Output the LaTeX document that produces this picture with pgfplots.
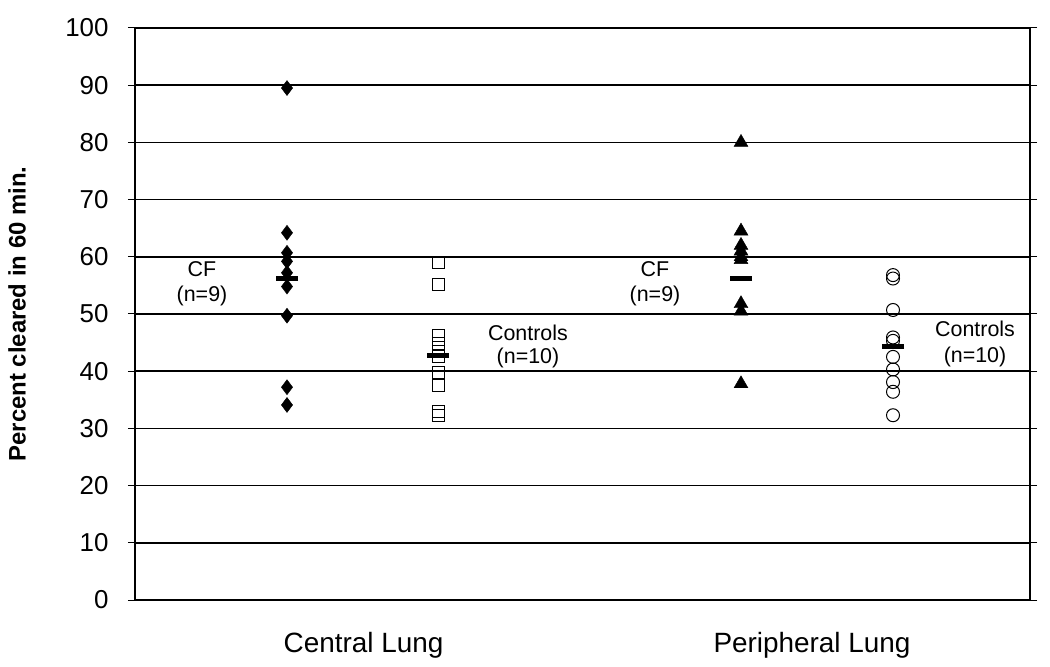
\documentclass[border=0pt]{standalone}
\usepackage{pgfplots}
\pgfplotsset{compat=1.18}
\usepackage{fontspec}
\setmainfont{Liberation Sans}
\begin{document}
\begin{tikzpicture}
\useasboundingbox (-135bp,-67bp) rectangle (915bp,600bp);
\begin{axis}[
  at={(0,0)}, anchor=south west,
  width=895bp, height=572bp, scale only axis,
  xmin=0, xmax=895, ymin=0, ymax=100,
  axis line style={line width=2.2pt},
  ytick={0,10,...,100},
  ymajorgrids, grid style={black, line width=1.5pt},
  tick style={black, line width=1pt},
  y tick label style={font=\fontsize{26}{30}\selectfont, xshift=-16bp},
  /pgf/number format/assume math mode=true,
  ytick align=outside, major tick length=7bp,
  xtick={228.5,677}, xticklabels={Central Lung, Peripheral Lung},
  x tick label style={font=\fontsize{28}{32}\selectfont, anchor=base, yshift=-52bp},
  xtick style={draw=none},
  clip=false,
]
% Central Lung CF
\addplot[only marks, mark=diamond*, mark size=7.5bp, black] coordinates {
(152,89.5) (152,64.2) (152,60.7) (152,59.2) (152,57.2) (152,54.8) (152,49.7) (152,37.2) (152,34.1)};
% Central Lung Controls
\addplot[only marks, mark=square, mark size=6bp, black, mark options={line width=1pt}] coordinates {
(303,59.0) (303,55.2) (303,46.3) (303,44.8) (303,43.5) (303,42.5) (303,39.7) (303,37.5) (303,33.0) (303,32.3)};
% Peripheral Lung CF
\addplot[only marks, mark=triangle*, mark size=8bp, black] coordinates {
(606,80.0) (606,64.5) (606,62.0) (606,61.0) (606,60.0) (606,59.5) (606,51.8) (606,50.5) (606,37.8)};
% Peripheral Lung Controls
\addplot[only marks, mark=o, mark size=6.5bp, black, mark options={line width=1pt}] coordinates {
(758,56.8) (758,56.2) (758,50.7) (758,45.9) (758,45.3) (758,42.5) (758,40.3) (758,38.1) (758,36.4) (758,32.3)};
% means
\addplot[only marks, mark=-, mark size=11bp, black, mark options={line width=5.5pt}] coordinates {
(152,56.2) (303,42.7) (606,56.2) (758,44.3)};
\node[anchor=base, font=\fontsize{21.5}{24}\selectfont] at (axis cs:67,56.5) {CF};
\node[anchor=base, font=\fontsize{21.5}{24}\selectfont] at (axis cs:67,52.1) {(n=9)};
\node[anchor=base, font=\fontsize{21.5}{24}\selectfont] at (axis cs:393,45.45) {Controls};
\node[anchor=base, font=\fontsize{21.5}{24}\selectfont] at (axis cs:393,41.4) {(n=10)};
\node[anchor=base, font=\fontsize{21.5}{24}\selectfont] at (axis cs:520,56.5) {CF};
\node[anchor=base, font=\fontsize{21.5}{24}\selectfont] at (axis cs:520,52.1) {(n=9)};
\node[anchor=base, font=\fontsize{21.5}{24}\selectfont] at (axis cs:840,46.0) {Controls};
\node[anchor=base, font=\fontsize{21.5}{24}\selectfont] at (axis cs:840,41.6) {(n=10)};
\node[rotate=90, font=\fontsize{24}{28}\selectfont\bfseries] at ([xshift=-118bp]rel axis cs:0,0.5) {Percent cleared in 60 min.};
\end{axis}
\end{tikzpicture}
\end{document}
